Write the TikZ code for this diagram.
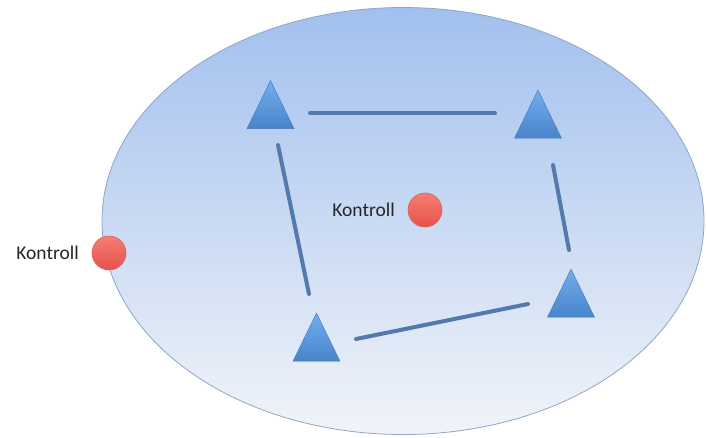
\documentclass[tikz,border=0pt]{standalone}
\usepackage{fontspec}
\setmainfont{Carlito}
\usepackage{tikz}
\usetikzlibrary{shapes,positioning,calc}

\definecolor{fieldtop}{HTML}{A2C0EE}
\definecolor{fieldbot}{HTML}{F1F4F9}
\definecolor{fieldline}{HTML}{8EA6C8}
\definecolor{tritop}{HTML}{72AEEC}
\definecolor{tribot}{HTML}{4884CB}
\definecolor{linkblue}{HTML}{5479AC}
\definecolor{dottop}{HTML}{F47E72}
\definecolor{dotbot}{HTML}{E5524B}
\definecolor{dotline}{HTML}{D9645A}

\tikzset{
  cone/.style={isosceles triangle, shape border rotate=90, isosceles triangle apex angle=52,
    minimum width=47pt, minimum height=47pt, inner sep=0pt,
    top color=tritop, bottom color=tribot, draw=tribot!90!black, line width=0.4pt},
  link/.style={line width=4pt, linkblue, line cap=round},
  ctrl/.style={circle, minimum size=34pt, inner sep=0pt,
    top color=dottop, bottom color=dotbot, draw=dotline, line width=0.6pt},
  lbl/.style={text=black!85, font=\fontsize{19.5}{22}\selectfont, inner sep=0pt}
}

\begin{document}
\begin{tikzpicture}[x=1pt, y=-1pt]
    \useasboundingbox (0,0) rectangle (707,437);

    % Field
    \draw[fieldline, line width=0.8pt, top color=fieldtop, bottom color=fieldbot]
        (403,221) ellipse [x radius=301, y radius=213.5];

    % Cones
    \node[cone] at (270.5,114) (t1) {};
    \node[cone] at (538,123.5) (t2) {};
    \node[cone] at (571,302.5) (t3) {};
    \node[cone] at (316.5,346.5) (t4) {};

    % Link ends
    \coordinate (a1) at (310,113);
    \coordinate (a2) at (495,113);
    \coordinate (b1) at (278,145);
    \coordinate (b2) at (309,294);
    \coordinate (c1) at (553,165);
    \coordinate (c2) at (569,250);
    \coordinate (d1) at (356,339);
    \coordinate (d2) at (528,304);

    % Links
    \draw[link] (a1) -- (a2);
    \draw[link] (b1) -- (b2);
    \draw[link] (c1) -- (c2);
    \draw[link] (d1) -- (d2);

    % Controls
    \node[ctrl] at (425,210) (k1) {};
    \node[lbl, anchor=east] at (395,210) (k1txt) {Kontroll};
    \node[ctrl] at (109,253) (k2) {};
    \node[lbl, anchor=east] at (79,253) (k2txt) {Kontroll};
\end{tikzpicture}
\end{document}
